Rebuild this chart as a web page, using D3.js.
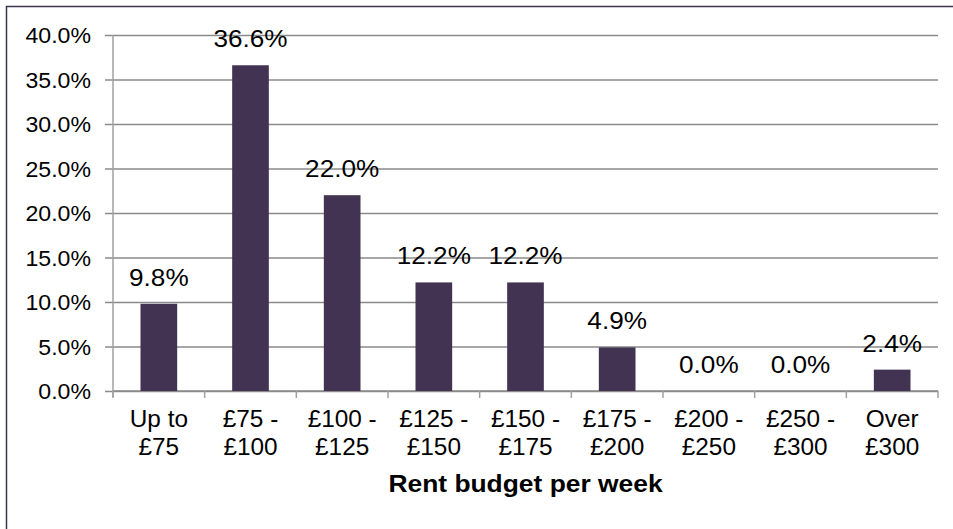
<!DOCTYPE html>
<html>
<head>
<meta charset="utf-8">
<script src="https://cdn.jsdelivr.net/npm/d3@7"></script>
<style>
  html, body { margin: 0; padding: 0; background: #fff; }
  svg { display: block; font-family: "Liberation Sans", Arial, sans-serif; }
</style>
</head>
<body>
<div id="chart"></div>
<script>
const categories = ['Up to|£75', '£75 -|£100', '£100 -|£125', '£125 -|£150', '£150 -|£175',
                    '£175 -|£200', '£200 -|£250', '£250 -|£300', 'Over|£300'];
const shares     = [9.8, 36.6, 22.0, 12.2, 12.2, 4.9, 0.0, 0.0, 2.4];
const yTicks     = [0, 5, 10, 15, 20, 25, 30, 35, 40];
const axisTitle  = 'Rent budget per week';

const W = 953, H = 529,
      plot = {left: 113, right: 938, top: 35, bottom: 391},
      barColor  = '#433352',
      gridColor = '#8a8a8a';

// text in the picture is a little wider than the font gives
function stretched(sel, x, y, s) {
  sel.attr('x', 0).attr('y', 0)
    .attr('transform', (d, i) => `translate(${x(d, i)},${y(d, i)}) scale(${s},1)`);
}

const svg = d3.select('#chart').append('svg')
  .attr('width', W)
  .attr('height', H);

// outer frame (only top and left edges are in view)
svg.append('rect')
  .attr('x', 6.5).attr('y', 6.5)
  .attr('width', W + 20).attr('height', H + 20)
  .attr('fill', 'none')
  .attr('stroke', '#3f3151')
  .attr('stroke-width', 1.5);

const x = d3.scaleBand()
  .domain(categories)
  .range([plot.left, plot.right])
  .paddingInner(0.6)
  .paddingOuter(0.3);

const y = d3.scaleLinear()
  .domain([0, 40])
  .range([plot.bottom, plot.top]);

// gridlines + y axis
const yAxis = svg.append('g')
  .attr('transform', `translate(${plot.left},0)`)
  .call(d3.axisLeft(y)
    .tickValues(yTicks)
    .tickSize(-(plot.right - plot.left))
    .tickFormat(d => d.toFixed(1) + '%'));
yAxis.select('.domain').remove();
yAxis.selectAll('.tick line')
  .attr('stroke', gridColor)
  .attr('stroke-width', 1.5)
  .attr('x1', -8);
yAxis.selectAll('.tick text')
  .attr('fill', '#000')
  .attr('font-size', 22)
  .attr('dy', '0.36em')
  .call(stretched, () => -22, () => 0, 1.05);

// y axis line
svg.append('line')
  .attr('x1', plot.left).attr('x2', plot.left)
  .attr('y1', plot.top).attr('y2', plot.bottom + 6)
  .attr('stroke', '#a0a0a0')
  .attr('stroke-width', 1.5);

// x axis line and boundary ticks
svg.append('line')
  .attr('x1', plot.left).attr('x2', plot.right)
  .attr('y1', plot.bottom).attr('y2', plot.bottom)
  .attr('stroke', gridColor)
  .attr('stroke-width', 1.5);

const step = x.step();
svg.append('g').selectAll('line')
  .data(d3.range(categories.length + 1))
  .join('line')
  .attr('x1', i => plot.left + i * step)
  .attr('x2', i => plot.left + i * step)
  .attr('y1', plot.bottom)
  .attr('y2', plot.bottom + 7)
  .attr('stroke', '#a0a0a0')
  .attr('stroke-width', 1.5);

// bars
svg.append('g').selectAll('rect')
  .data(shares)
  .join('rect')
  .attr('x', (d, i) => x(categories[i]))
  .attr('y', d => y(d))
  .attr('width', x.bandwidth())
  .attr('height', d => y(0) - y(d))
  .attr('fill', barColor);

// value labels
svg.append('g').selectAll('text')
  .data(shares)
  .join('text')
  .attr('text-anchor', 'middle')
  .attr('font-size', 24)
  .text(d => d.toFixed(1) + '%')
  .call(stretched, (d, i) => x(categories[i]) + x.bandwidth() / 2, d => y(d) - 18, 1.09);

// category labels (two lines)
const catLines = categories.flatMap(c => c.split('|').map((t, k) => ({t, c, k})));
svg.append('g').selectAll('text')
  .data(catLines)
  .join('text')
  .attr('text-anchor', 'middle')
  .attr('font-size', 23)
  .attr('fill', '#000')
  .text(d => d.t)
  .call(stretched, d => x(d.c) + x.bandwidth() / 2, d => 427 + d.k * 28, 1.06);

// axis title
svg.append('text')
  .datum(axisTitle)
  .attr('text-anchor', 'middle')
  .attr('font-size', 24)
  .attr('font-weight', 'bold')
  .text(d => d)
  .call(stretched, () => (plot.left + plot.right) / 2, () => 492, 1.1);
</script>
</body>
</html>
